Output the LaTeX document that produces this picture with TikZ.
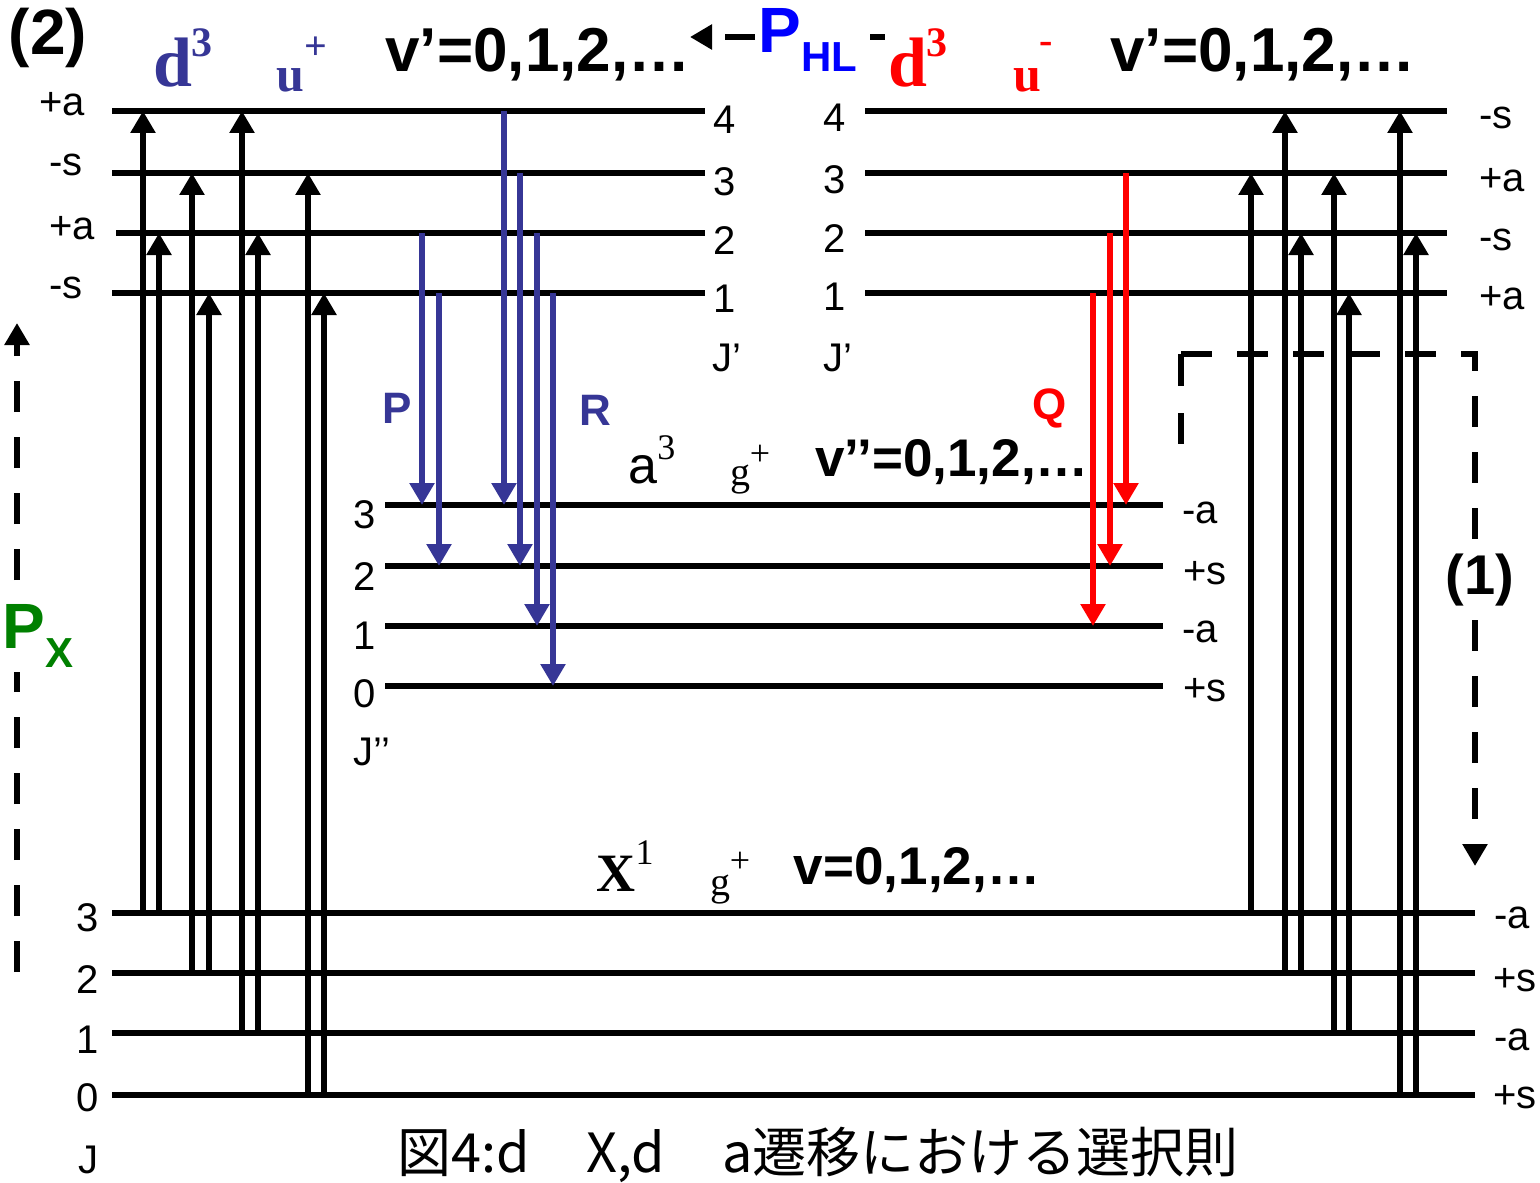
\documentclass[tikz,border=0pt]{standalone}
\usepackage{fontspec}
\setmainfont{Liberation Sans}
\newfontfamily\tnr{Liberation Serif}
\newfontfamily\jpfont{Noto Sans CJK JP}
\usetikzlibrary{arrows.meta}
\definecolor{cPR}{HTML}{363696}
\definecolor{cQ}{HTML}{FF0000}
\definecolor{cHL}{HTML}{0000FF}
\definecolor{cPX}{HTML}{008000}
\tikzset{
  level/.style={line width=3.3pt},
  pump/.style={
    line width=3.3pt,
    -{Triangle[length=11pt,width=12pt]}
  },
  emit/.style={pump, draw=#1},
  dashpath/.style={
    line width=3.3pt,
    dash pattern=on 15.5pt off 12.5pt
  },
  jlab/.style={font=\fontsize{20}{24}\selectfont, inner sep=0pt},
  head/.style={font=\fontsize{31}{36}\selectfont\bfseries, inner sep=0pt},
  subhead/.style={font=\fontsize{26.5}{30}\selectfont\bfseries, inner sep=0pt},
  branch/.style={font=\fontsize{22}{26}\selectfont\bfseries, inner sep=0pt, text=#1},
  term/.style={inner sep=0pt, text=#1}
}
\newcommand{\bigd}[1]{{\tnr\bfseries\fontsize{35}{40}\selectfont d\raisebox{0.42em}{\fontsize{21}{21}\selectfont #1}}}

\begin{document}
\begin{tikzpicture}[x=0.5pt, y=-0.5pt]
  \useasboundingbox (0,0) rectangle (1540,1182);

  % level positions
  \coordinate (UL4) at (112,111);
  \coordinate (UL3) at (112,173);
  \coordinate (UL2) at (116,233);
  \coordinate (UL1) at (112,293);
  \coordinate (UR4) at (865,111);
  \coordinate (UR3) at (865,173);
  \coordinate (UR2) at (865,233);
  \coordinate (UR1) at (865,293);
  \coordinate (A3) at (385,505);
  \coordinate (A2) at (385,566);
  \coordinate (A1) at (385,626);
  \coordinate (A0) at (385,686);
  \coordinate (X3) at (112,913);
  \coordinate (X2) at (112,973);
  \coordinate (X1) at (112,1033);
  \coordinate (X0) at (112,1095);

  \draw[level] (UL4) -- +(593,0);
  \draw[level] (UL3) -- +(593,0);
  \draw[level] (UL2) -- +(589,0);
  \draw[level] (UL1) -- +(593,0);
  \draw[level] (UR4) -- +(582,0);
  \draw[level] (UR3) -- +(582,0);
  \draw[level] (UR2) -- +(582,0);
  \draw[level] (UR1) -- +(582,0);
  \draw[level] (A3) -- +(778,0);
  \draw[level] (A2) -- +(778,0);
  \draw[level] (A1) -- +(778,0);
  \draw[level] (A0) -- +(778,0);
  \draw[level] (X3) -- +(1363,0);
  \draw[level] (X2) -- +(1363,0);
  \draw[level] (X1) -- +(1363,0);
  \draw[level] (X0) -- +(1363,0);

  % X -> d3 (left)
  \draw[pump] (143,0 |- X3) -- (143,0 |- UL4);
  \draw[pump] (159,0 |- X3) -- (159,0 |- UL2);
  \draw[pump] (192,0 |- X2) -- (192,0 |- UL3);
  \draw[pump] (209,0 |- X2) -- (209,0 |- UL1);
  \draw[pump] (242,0 |- X1) -- (242,0 |- UL4);
  \draw[pump] (258,0 |- X1) -- (258,0 |- UL2);
  \draw[pump] (308,0 |- X0) -- (308,0 |- UL3);
  \draw[pump] (324,0 |- X0) -- (324,0 |- UL1);

  % X -> d3 (right)
  \draw[pump] (1251,0 |- X3) -- (1251,0 |- UR3);
  \draw[pump] (1285,0 |- X2) -- (1285,0 |- UR4);
  \draw[pump] (1301,0 |- X2) -- (1301,0 |- UR2);
  \draw[pump] (1334,0 |- X1) -- (1334,0 |- UR3);
  \draw[pump] (1349,0 |- X1) -- (1349,0 |- UR1);
  \draw[pump] (1400,0 |- X0) -- (1400,0 |- UR4);
  \draw[pump] (1416,0 |- X0) -- (1416,0 |- UR2);

  % d3 -> a3, P and R
  \draw[emit=cPR] (422,0 |- UL2) -- (422,0 |- A3);
  \draw[emit=cPR] (439,0 |- UL1) -- (439,0 |- A2);
  \draw[emit=cPR] (504,0 |- UL4) -- (504,0 |- A3);
  \draw[emit=cPR] (520,0 |- UL3) -- (520,0 |- A2);
  \draw[emit=cPR] (537,0 |- UL2) -- (537,0 |- A1);
  \draw[emit=cPR] (553,0 |- UL1) -- (553,0 |- A0);

  % d3 -> a3, Q
  \draw[emit=cQ] (1093,0 |- UR1) -- (1093,0 |- A1);
  \draw[emit=cQ] (1110,0 |- UR2) -- (1110,0 |- A2);
  \draw[emit=cQ] (1126,0 |- UR3) -- (1126,0 |- A3);

  % level labels
  \node[jlab] (lUL4) at (62,104) {+a};
  \node[jlab] (lUL3) at (66,165) {-s};
  \node[jlab] (lUL2) at (72,228) {+a};
  \node[jlab] (lUL1) at (66,288) {-s};
  \node[jlab] (nUL4) at (725,120) {4};
  \node[jlab] (nUL3) at (725,182) {3};
  \node[jlab] (nUL2) at (725,241) {2};
  \node[jlab] (nUL1) at (725,299) {1};
  \node[jlab] (jUL) at (727,358) {J’};
  \node[jlab] (nUR4) at (835,118) {4};
  \node[jlab] (nUR3) at (835,180) {3};
  \node[jlab] (nUR2) at (835,239) {2};
  \node[jlab] (nUR1) at (835,297) {1};
  \node[jlab] (jUR) at (838,358) {J’};
  \node[jlab] (lUR4) at (1496,118) {-s};
  \node[jlab] (lUR3) at (1502,180) {+a};
  \node[jlab] (lUR2) at (1496,240) {-s};
  \node[jlab] (lUR1) at (1502,298) {+a};
  \node[jlab] (nA3) at (365,515) {3};
  \node[jlab] (nA2) at (365,577) {2};
  \node[jlab] (nA1) at (365,636) {1};
  \node[jlab] (nA0) at (365,694) {0};
  \node[jlab] (jA) at (372,752) {J’’};
  \node[jlab] (lA3) at (1200,513) {-a};
  \node[jlab] (lA2) at (1205,573) {+s};
  \node[jlab] (lA1) at (1200,632) {-a};
  \node[jlab] (lA0) at (1205,690) {+s};
  \node[jlab] (nX3) at (88,918) {3};
  \node[jlab] (nX2) at (88,980) {2};
  \node[jlab] (nX1) at (88,1040) {1};
  \node[jlab] (nX0) at (88,1098) {0};
  \node[jlab] (jX) at (88,1160) {J};
  \node[jlab] (lX3) at (1512,918) {-a};
  \node[jlab] (lX2) at (1515,980) {+s};
  \node[jlab] (lX1) at (1512,1040) {-a};
  \node[jlab] (lX0) at (1515,1097) {+s};

  % state names
  \node[term=cPR] (dPlus) at (183,58) {\bigd{3}};
  \node[term=cPR] (uPlus) at (290,80) {\tnr\bfseries\fontsize{25}{28}\selectfont u};
  \node[term=cPR] (sPlus) at (316,48) {\tnr\bfseries\fontsize{20}{22}\selectfont +};
  \node[head] (vUL) at (538,55) {v’=0,1,2,…};
  \node[term=cQ] (dMinus) at (918,58) {\bigd{3}};
  \node[term=cQ] (uMinus) at (1027,80) {\tnr\bfseries\fontsize{25}{28}\selectfont u};
  \node[term=cQ] (sMinus) at (1046,48) {\tnr\bfseries\fontsize{20}{22}\selectfont -};
  \node[head] (vUR) at (1263,55) {v’=0,1,2,…};
  \node[term=black] (aTrip) at (652,460) {\fontsize{26}{30}\selectfont a\raisebox{0.45em}{\tnr\fontsize{18}{18}\selectfont 3}};
  \node[term=black] (gA) at (740,480) {\tnr\fontsize{20}{22}\selectfont g};
  \node[term=black] (sA) at (760,455) {\tnr\fontsize{18}{20}\selectfont +};
  \node[subhead] (vA) at (952,462) {v’’=0,1,2,…};
  \node[term=black] (xSing) at (625,866) {\tnr\bfseries\fontsize{27}{30}\selectfont X\raisebox{0.5em}{\mdseries\fontsize{18}{18}\selectfont 1}};
  \node[term=black] (gX) at (720,890) {\tnr\fontsize{20}{22}\selectfont g};
  \node[term=black] (sX) at (740,862) {\tnr\fontsize{18}{20}\selectfont +};
  \node[subhead] (vX) at (917,870) {v=0,1,2,…};

  % branches
  \node[branch=cPR] (bP) at (397,408) {P};
  \node[branch=cPR] (bR) at (595,410) {R};
  \node[branch=cQ] (bQ) at (1050,408) {Q};

  % pump / probe paths
  \coordinate (pxBot) at (17,972);
  \coordinate (pxTop) at (17,323);
  \draw[dashpath, -{Triangle[length=11pt,width=12pt]}] (pxBot) -- (pxTop);
  \node[fill=white, inner sep=2pt, text=cPX, font=\bfseries] (px) at (38,636)
    {\fontsize{32}{36}\selectfont P\raisebox{-0.3em}{\fontsize{21}{24}\selectfont X}};

  \coordinate (oneA) at (1181,444);
  \coordinate (oneB) at (1181,354);
  \coordinate (oneC) at (1475,354);
  \coordinate (oneD) at (1475,866);
  \draw[line width=3.3pt, dash pattern=on 16pt off 13.5pt on 16pt] (oneB) -- (oneA);
  \draw[dashpath, -{Triangle[length=11pt,width=12pt]}] (oneB) -- (oneC) -- (oneD);
  \node[fill=white, inner sep=3pt, font=\fontsize{28}{32}\selectfont\bfseries] (one) at (1480,580) {(1)};

  \coordinate (hlA) at (755,37);
  \coordinate (hlL) at (690,37);
  \coordinate (hlB) at (870,37);
  \draw[line width=3.3pt, dash pattern=on 15pt off 60pt, -{Triangle[length=11pt,width=12pt]}] (hlA) -- (hlL);
  \draw[line width=3.3pt] (hlB) -- +(15,0);
  \node[text=cHL, inner sep=0pt, font=\bfseries] (phl) at (808,40)
    {\fontsize{32}{36}\selectfont P\raisebox{-0.3em}{\fontsize{21}{24}\selectfont HL}};

  \node[font=\fontsize{32}{38}\selectfont\bfseries, inner sep=0pt] (two) at (48,38) {(2)};

  % caption
  \node[inner sep=0pt, font=\jpfont\fontsize{27}{32}\selectfont] (cap) at (818,1155)
    {図4:d\hspace{1.05em}X,d\hspace{1.05em}a遷移における選択則};
\end{tikzpicture}
\end{document}
